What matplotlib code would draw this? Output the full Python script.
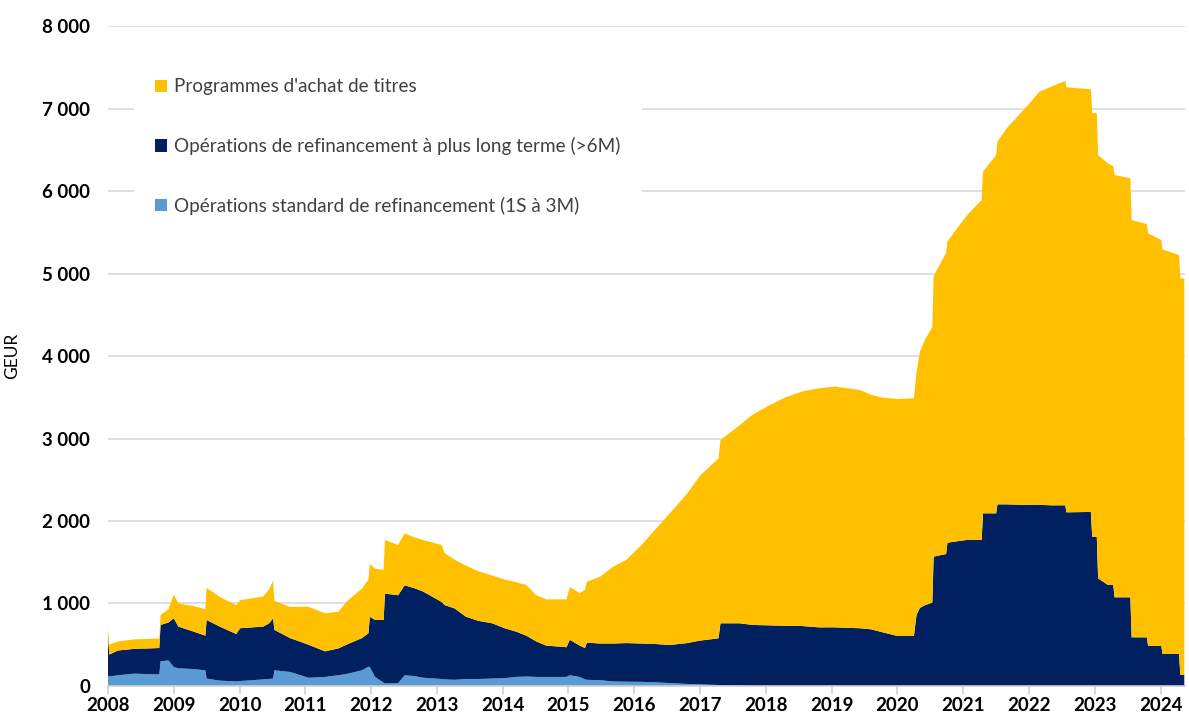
import numpy as np
import matplotlib.pyplot as plt
from matplotlib.ticker import FuncFormatter

# dates (fractional years) and stacked components, GEUR
dates = [2008.00, 2008.02, 2008.15, 2008.40, 2008.78, 2008.80, 2008.92, 2009.00, 2009.07, 2009.30,
         2009.48, 2009.50, 2009.70, 2009.95, 2010.01, 2010.36, 2010.45, 2010.51, 2010.53, 2010.77,
         2011.05, 2011.30, 2011.50, 2011.65, 2011.86, 2011.96, 2011.98, 2012.06, 2012.19, 2012.21,
         2012.41, 2012.51, 2012.66, 2012.79, 2013.07, 2013.12, 2013.27, 2013.44, 2013.63, 2013.84,
         2014.03, 2014.20, 2014.36, 2014.51, 2014.66, 2014.97, 2015.02, 2015.17, 2015.25, 2015.28,
         2015.48, 2015.68, 2015.88, 2016.10, 2016.30, 2016.54, 2016.80, 2017.00, 2017.28, 2017.31,
         2017.60, 2017.80, 2018.06, 2018.30, 2018.55, 2018.80, 2019.05, 2019.43, 2019.60, 2019.78,
         2020.00, 2020.25, 2020.29, 2020.34, 2020.42, 2020.53, 2020.55, 2020.74, 2020.76, 2021.05,
         2021.28, 2021.30, 2021.50, 2021.52, 2021.66, 2021.96, 2022.16, 2022.36, 2022.55, 2022.57,
         2022.94, 2022.96, 2023.03, 2023.05, 2023.20, 2023.28, 2023.30, 2023.54, 2023.56, 2023.79,
         2023.81, 2024.01, 2024.03, 2024.28, 2024.30, 2024.36]

# opérations standard de refinancement (1S à 3M)
mro = [130, 115, 130, 150, 140, 300, 310, 230, 215, 205,
       190, 90, 65, 55, 60, 80, 85, 90, 190, 170,
       100, 110, 130, 150, 190, 234, 230, 110, 40, 30,
       35, 130, 120, 100, 85, 80, 75, 85, 85, 90,
       95, 110, 115, 110, 110, 110, 130, 110, 80, 75,
       70, 55, 52, 50, 45, 36, 25, 20, 12, 10,
       5, 0, 0, 0, 0, 0, 0, 0, 0, 0,
       0, 0, 0, 0, 0, 0, 0, 0, 0, 0,
       0, 0, 0, 0, 0, 0, 0, 0, 0, 0,
       0, 0, 0, 0, 0, 0, 0, 0, 0, 0,
       0, 0, 0, 0, 0, 0]

# opérations de refinancement à plus long terme (>6M)
ltro = [500, 265, 300, 300, 320, 440, 460, 590, 505, 455,
        420, 710, 655, 575, 640, 640, 675, 730, 490, 410,
        400, 310, 325, 360, 390, 406, 610, 690, 760, 1090,
        1065, 1090, 1065, 1045, 935, 900, 865, 755, 705, 670,
        605, 550, 495, 430, 380, 360, 430, 380, 380, 450,
        445, 460, 468, 465, 465, 461, 495, 530, 566, 750,
        755, 740, 735, 730, 727, 711, 711, 700, 687, 650,
        606, 606, 861, 945, 980, 1010, 1568, 1600, 1737, 1770,
        1770, 2093, 2093, 2202, 2202, 2195, 2195, 2190, 2190, 2105,
        2110, 1810, 1810, 1305, 1224, 1224, 1075, 1075, 590, 590,
        485, 485, 388, 388, 133, 133]

# programmes d'achat de titres
app = [90, 120, 110, 115, 115, 120, 160, 290, 280, 310,
       320, 390, 360, 350, 340, 365, 410, 460, 350, 380,
       460, 460, 445, 530, 600, 650, 640, 620, 610, 650,
       610, 630, 615, 625, 690, 630, 590, 620, 600, 580,
       590, 600, 614, 560, 560, 580, 640, 635, 705, 740,
       810, 931, 1010, 1185, 1370, 1596, 1810, 2000, 2182, 2222,
       2400, 2550, 2671, 2770, 2843, 2897, 2919, 2888, 2843, 2845,
       2874, 2881, 2939, 3105, 3220, 3340, 3402, 3650, 3653, 3930,
       4121, 4141, 4343, 4395, 4558, 4827, 5009, 5083, 5143, 5152,
       5123, 5135, 5135, 5131, 5111, 5076, 5119, 5079, 5058, 5010,
       5002, 4921, 4905, 4836, 4808, 4808]

labels = ["Opérations standard de refinancement (1S à 3M)",
          "Opérations de refinancement à plus long terme (>6M)",
          "Programmes d'achat de titres"]
colors = ["#5B9BD5", "#002060", "#FFC000"]
years = list(range(2008, 2025))

plt.rcParams['font.family'] = ['Lato', 'DejaVu Sans']

fig = plt.figure(figsize=(11.89, 7.25), dpi=100)
ax = fig.add_axes([0.0908, 0.0538, 0.9058, 0.9103])

ax.stackplot(dates, mro, ltro, app, colors=colors, labels=labels, linewidth=0, zorder=2)

ax.set_xlim(2008, 2024.37)
ax.set_ylim(0, 8000)
ax.set_yticks(np.arange(0, 8001, 1000))
ax.yaxis.set_major_formatter(FuncFormatter(lambda v, p: "0" if v == 0 else f"{int(v):,}".replace(",", " ")))
ax.set_xticks(years)
ax.set_xticklabels([str(y) for y in years])

ax.grid(axis='y', color='#d9d9d9', linewidth=1.2, zorder=0)
ax.set_axisbelow(True)
for s in ['top', 'right', 'left']:
    ax.spines[s].set_visible(False)
ax.spines['bottom'].set_color('#d0d0d0')
ax.spines['bottom'].set_linewidth(1.2)
ax.tick_params(axis='y', length=0, pad=13, labelsize=13.5)
ax.tick_params(axis='x', length=6, color='#d0d0d0', width=1.2, labelsize=13.5, pad=2)
for t in ax.get_xticklabels() + ax.get_yticklabels():
    t.set_fontweight('bold')

ax.set_ylabel("GEUR", fontsize=12.5)
ax.yaxis.set_label_coords(-0.082, 0.5)

handles, lbls = ax.get_legend_handles_labels()
leg = ax.legend(handles[::-1], lbls[::-1], loc='upper left', bbox_to_anchor=(0.024, 0.952),
                borderaxespad=0, frameon=True, facecolor='white', edgecolor='none', framealpha=1,
                fancybox=False, fontsize=13.6, labelspacing=2.2, handlelength=0.65, handleheight=0.65,
                handletextpad=0.4, borderpad=1.1)
leg.set_zorder(5)
for t in leg.get_texts():
    t.set_color('#404040')

fig.savefig("out.png", dpi=100)
